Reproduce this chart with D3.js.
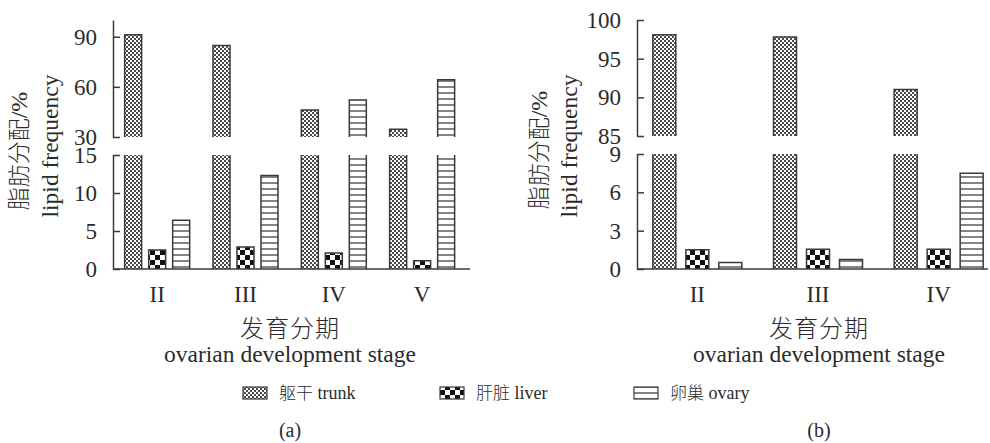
<!DOCTYPE html>
<html><head><meta charset="utf-8">
<script src="https://cdn.jsdelivr.net/npm/d3@7/dist/d3.min.js"></script>
<style>
html,body{margin:0;padding:0;background:#fff;}
svg{display:block;}
</style></head>
<body>
<svg id="chart" width="990" height="443"></svg>
<script>
// ---------- data ----------
const seriesNames = ["trunk", "liver", "ovary"];
const legendZh = ["躯干", "肝脏", "卵巢"];
const legendEn = ["trunk", "liver", "ovary"];

const stagesA = ["II", "III", "IV", "V"];
const trunkA = [91.2, 84.8, 46.2, 34.6];
const liverA = [2.5, 2.9, 2.1, 1.1];
const ovaryA = [6.4, 12.3, 52.2, 64.2];
const ticksATop = [30, 60, 90];
const ticksABottom = [0, 5, 10, 15];
const domainATop = [30, 100];
const domainABottom = [0, 15];

const stagesB = ["II", "III", "IV"];
const trunkB = [98.1, 97.8, 91.0];
const liverB = [1.5, 1.55, 1.55];
const ovaryB = [0.5, 0.75, 7.5];
const ticksBTop = [85, 90, 95, 100];
const ticksBBottom = [0, 3, 6, 9];
const domainBTop = [85, 100];
const domainBBottom = [0, 9];

const yTitleZh = "脂肪分配";
const yTitleUnit = "/%";
const yTitleEn = "lipid frequency";
const xTitleZh = "发育分期";
const xTitleEn = "ovarian development stage";

// ---------- drawing ----------
const SERIF = '"Liberation Serif", "Times New Roman", serif';
const CJK = '"Noto Sans CJK SC", "Noto Sans CJK JP", sans-serif';
const svg = d3.select("#chart");
const INK = "#2b2b2b";
const LINE = "#3a3a3a";

// patterns
const defs = svg.append("defs");
const pTrunk = defs.append("pattern").attr("id", "pat-trunk").attr("patternUnits", "userSpaceOnUse")
  .attr("width", 4).attr("height", 4);
pTrunk.append("rect").attr("width", 4).attr("height", 4).attr("fill", "#fff");
pTrunk.append("rect").attr("x", 0).attr("y", 0).attr("width", 2).attr("height", 2).attr("fill", "#4a4a4a");
pTrunk.append("rect").attr("x", 2).attr("y", 2).attr("width", 2).attr("height", 2).attr("fill", "#4a4a4a");

const pLiver = defs.append("pattern").attr("id", "pat-liver").attr("patternUnits", "userSpaceOnUse")
  .attr("width", 10).attr("height", 10);
pLiver.append("rect").attr("width", 10).attr("height", 10).attr("fill", "#fff");
pLiver.append("rect").attr("x", 0).attr("y", 0).attr("width", 5).attr("height", 5).attr("fill", "#111");
pLiver.append("rect").attr("x", 5).attr("y", 5).attr("width", 5).attr("height", 5).attr("fill", "#111");

const pOvary = defs.append("pattern").attr("id", "pat-ovary").attr("patternUnits", "userSpaceOnUse")
  .attr("width", 6).attr("height", 6);
pOvary.append("rect").attr("width", 6).attr("height", 6).attr("fill", "#fff");
pOvary.append("rect").attr("x", 0).attr("y", 2.4).attr("width", 6).attr("height", 1.2).attr("fill", "#333");

const fills = { trunk: "url(#pat-trunk)", liver: "url(#pat-liver)", ovary: "url(#pat-ovary)" };

function drawPanel(cfg) {
  const g = svg.append("g");
  const x = d3.scaleBand().domain(cfg.stages).range(cfg.bandRange).paddingInner(0).paddingOuter(0);
  const xs = d3.scalePoint().domain(seriesNames).range([-cfg.offset, cfg.offset]);
  const yTop = d3.scaleLinear().domain(cfg.domainTop).range(cfg.topRange);
  const yBot = d3.scaleLinear().domain(cfg.domainBottom).range(cfg.botRange);

  const rows = [];
  cfg.stages.forEach((s, i) => {
    rows.push({ stage: s, series: "trunk", v: cfg.trunk[i] });
    rows.push({ stage: s, series: "liver", v: cfg.liver[i] });
    rows.push({ stage: s, series: "ovary", v: cfg.ovary[i] });
  });

  const bars = g.append("g");
  rows.forEach(d => {
    const cx = x(d.stage) + x.bandwidth() / 2 + xs(d.series);
    const x0 = cx - cfg.barW / 2, x1 = cx + cfg.barW / 2;
    const botMax = cfg.domainBottom[1];
    const vb = Math.min(d.v, botMax);
    const yb = yBot(vb), y0 = yBot(0);
    bars.append("rect").attr("x", x0).attr("y", yb).attr("width", cfg.barW).attr("height", y0 - yb)
      .attr("fill", fills[d.series]);
    const pathB = d.v > botMax
      ? `M${x0},${y0}V${yb}M${x1},${yb}V${y0}`
      : `M${x0},${y0}V${yb}H${x1}V${y0}`;
    bars.append("path").attr("d", pathB).attr("fill", "none").attr("stroke", LINE).attr("stroke-width", 1.5);
    if (d.v > cfg.domainTop[0]) {
      const yt = yTop(d.v), yt0 = yTop(cfg.domainTop[0]);
      bars.append("rect").attr("x", x0).attr("y", yt).attr("width", cfg.barW).attr("height", yt0 - yt)
        .attr("fill", fills[d.series]);
      bars.append("path").attr("d", `M${x0},${yt0}V${yt}H${x1}V${yt0}`)
        .attr("fill", "none").attr("stroke", LINE).attr("stroke-width", 1.5);
    }
  });

  // y axes
  const axTop = d3.axisLeft(yTop).tickValues(cfg.ticksTop).tickSizeInner(-7).tickSizeOuter(0).tickPadding(16);
  const axBot = d3.axisLeft(yBot).tickValues(cfg.ticksBottom).tickSizeInner(-7).tickSizeOuter(0).tickPadding(16);
  [axTop, axBot].forEach(ax => {
    const a = g.append("g").attr("transform", `translate(${cfg.axisX},0)`).call(ax)
      .attr("font-family", SERIF).attr("font-size", 23);
    a.select(".domain").attr("stroke", LINE).attr("stroke-width", 1.5);
    a.selectAll(".tick line").attr("stroke", LINE).attr("stroke-width", 1.5);
    a.selectAll(".tick text").attr("fill", INK);
  });

  // x axis
  const axX = d3.axisBottom(x).tickSize(0).tickPadding(17);
  const ax = g.append("g").attr("transform", `translate(0,${cfg.botRange[0]})`).call(axX)
    .attr("font-family", SERIF).attr("font-size", 23);
  ax.select(".domain").remove();
  ax.selectAll(".tick text").attr("fill", INK);
  g.append("line").attr("x1", cfg.axisX).attr("x2", cfg.xEnd)
    .attr("y1", cfg.botRange[0]).attr("y2", cfg.botRange[0])
    .attr("stroke", LINE).attr("stroke-width", 1.5);

  // y titles
  const tz = g.append("text").attr("transform", `translate(${cfg.yZhX},${cfg.yZhY}) rotate(-90)`)
    .attr("text-anchor", "middle").attr("dy", "0.36em").attr("fill", INK);
  tz.append("tspan").attr("font-family", CJK).attr("font-size", 23).attr("font-weight", 300).text(yTitleZh);
  tz.append("tspan").attr("font-family", SERIF).attr("font-size", 24).text(yTitleUnit);
  g.append("text").attr("transform", `translate(${cfg.yEnX},${cfg.yEnY}) rotate(-90)`)
    .attr("text-anchor", "middle").attr("dy", "0.3em").attr("fill", INK)
    .attr("font-family", SERIF).attr("font-size", 23.5).text(yTitleEn);

  // x titles
  g.append("text").attr("x", cfg.xTitleX).attr("y", 337).attr("text-anchor", "middle").attr("fill", INK)
    .attr("font-family", CJK).attr("font-size", 24).attr("font-weight", 300)
    .attr("letter-spacing", 1).text(xTitleZh);
  g.append("text").attr("x", cfg.xTitleX).attr("y", 362).attr("text-anchor", "middle").attr("fill", INK)
    .attr("font-family", SERIF).attr("font-size", 23.5).text(xTitleEn);

  // panel label
  g.append("text").attr("x", cfg.xTitleX).attr("y", 437).attr("text-anchor", "middle").attr("fill", INK)
    .attr("font-family", SERIF).attr("font-size", 20).text(cfg.label);
}

drawPanel({
  stages: stagesA, trunk: trunkA, liver: liverA, ovary: ovaryA,
  ticksTop: ticksATop, ticksBottom: ticksABottom, domainTop: domainATop, domainBottom: domainABottom,
  axisX: 113, xEnd: 470, bandRange: [113, 466.3], topRange: [137, 20], botRange: [269, 155],
  barW: 17, offset: 24, yZhX: 21, yZhY: 151, yEnX: 51, yEnY: 146, xTitleX: 290, label: "(a)"
});
drawPanel({
  stages: stagesB, trunk: trunkB, liver: liverB, ovary: ovaryB,
  ticksTop: ticksBTop, ticksBottom: ticksBBottom, domainTop: domainBTop, domainBottom: domainBBottom,
  axisX: 637, xEnd: 988, bandRange: [637, 999], topRange: [136, 20], botRange: [269, 154],
  barW: 23, offset: 33, yZhX: 541, yZhY: 150, yEnX: 570, yEnY: 146, xTitleX: 819, label: "(b)"
});

// legend
const legX = d3.scaleOrdinal().domain(seriesNames).range([243, 440, 634]);
const leg = svg.append("g");
seriesNames.forEach((s, i) => {
  const lx = legX(s);
  leg.append("rect").attr("x", lx).attr("y", 387).attr("width", 24).attr("height", 12)
    .attr("fill", fills[s]).attr("stroke", LINE).attr("stroke-width", 1.2);
  const t = leg.append("text").attr("x", lx + 36).attr("y", 399).attr("fill", INK);
  t.append("tspan").attr("font-family", CJK).attr("font-size", 17).attr("font-weight", 300).text(legendZh[i]);
  t.append("tspan").attr("font-family", SERIF).attr("font-size", 18).text(" " + legendEn[i]);
});
</script>
</body></html>
